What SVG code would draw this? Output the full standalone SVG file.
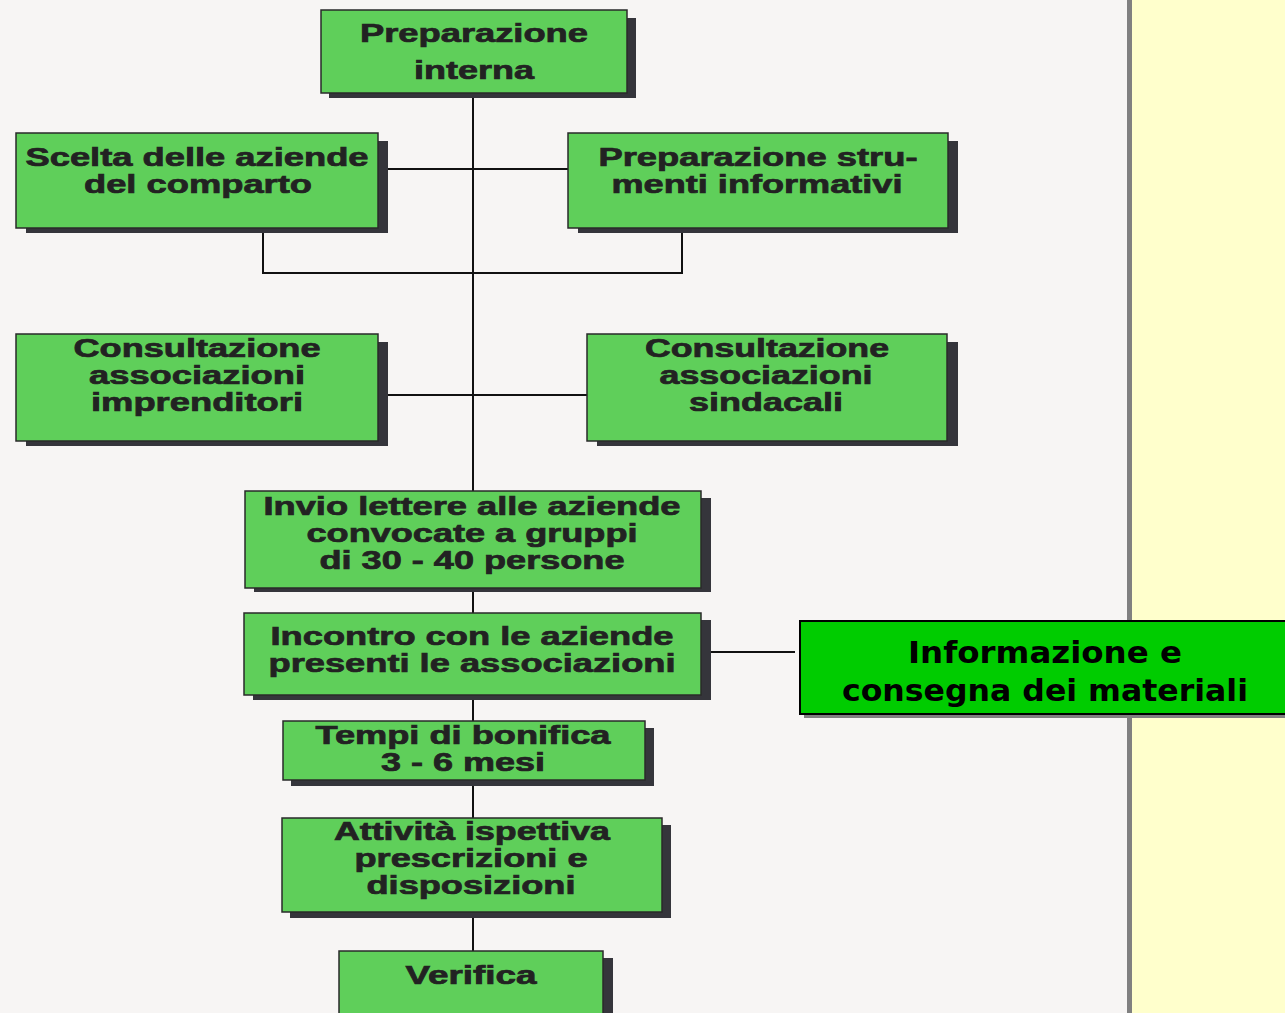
<svg xmlns="http://www.w3.org/2000/svg" width="1285" height="1013" viewBox="0 0 1285 1013">
<style>
.sh{fill:#35353b}
.bx{fill:#5fcf5a;stroke:#2a2a2a;stroke-width:1.5}
.t{font-family:"Liberation Sans",Arial,sans-serif;font-weight:bold;font-size:25px;fill:#222;stroke:#222;stroke-width:0.7;text-anchor:middle}
.ln{stroke:#111;stroke-width:2;fill:none}
.big{font-family:"DejaVu Sans",Verdana,sans-serif;font-weight:bold;font-size:30px;fill:#000;text-anchor:middle}
</style>
<rect x="0" y="0" width="1127" height="1013" fill="#f7f5f4"/>
<rect x="1127" y="0" width="5" height="1013" fill="#808080"/>
<rect x="1132" y="0" width="153" height="1013" fill="#ffffcc"/>
<g id="connectors">
<line class="ln" x1="473" y1="93" x2="473" y2="951"/>
<line class="ln" x1="378" y1="169" x2="568" y2="169"/>
<polyline class="ln" points="263,233 263,273 682,273 682,233"/>
<line class="ln" x1="378" y1="395" x2="587" y2="395"/>
<line class="ln" x1="711" y1="652" x2="795" y2="652"/>
</g>
<g id="n1"><rect class="sh" x="329" y="18" width="307" height="80"/><rect class="bx" x="321" y="10" width="306" height="83"/>
<text class="t" x="474" y="42" textLength="228" lengthAdjust="spacingAndGlyphs">Preparazione</text><text class="t" x="474" y="79" textLength="120" lengthAdjust="spacingAndGlyphs">interna</text></g>
<g id="n2"><rect class="sh" x="26" y="141" width="362" height="92"/><rect class="bx" x="16" y="133" width="362" height="95"/>
<text class="t" x="197" y="166" textLength="343" lengthAdjust="spacingAndGlyphs">Scelta delle aziende</text><text class="t" x="198" y="193" textLength="228" lengthAdjust="spacingAndGlyphs">del comparto</text></g>
<g id="n3"><rect class="sh" x="578" y="141" width="380" height="92"/><rect class="bx" x="568" y="133" width="380" height="95"/>
<text class="t" x="758" y="166" textLength="319" lengthAdjust="spacingAndGlyphs">Preparazione stru-</text><text class="t" x="757" y="193" textLength="291" lengthAdjust="spacingAndGlyphs">menti informativi</text></g>
<g id="n4"><rect class="sh" x="26" y="342" width="362" height="104"/><rect class="bx" x="16" y="334" width="362" height="107"/>
<text class="t" x="197" y="357" textLength="247" lengthAdjust="spacingAndGlyphs">Consultazione</text><text class="t" x="197" y="384" textLength="216" lengthAdjust="spacingAndGlyphs">associazioni</text><text class="t" x="197" y="411" textLength="212" lengthAdjust="spacingAndGlyphs">imprenditori</text></g>
<g id="n5"><rect class="sh" x="597" y="342" width="361" height="104"/><rect class="bx" x="587" y="334" width="360" height="107"/>
<text class="t" x="767" y="357" textLength="244" lengthAdjust="spacingAndGlyphs">Consultazione</text><text class="t" x="766" y="384" textLength="213" lengthAdjust="spacingAndGlyphs">associazioni</text><text class="t" x="766" y="411" textLength="154" lengthAdjust="spacingAndGlyphs">sindacali</text></g>
<g id="n6"><rect class="sh" x="254" y="498" width="457" height="94"/><rect class="bx" x="245" y="491" width="456" height="97"/>
<text class="t" x="472" y="515" textLength="417" lengthAdjust="spacingAndGlyphs">Invio lettere alle aziende</text><text class="t" x="472" y="542" textLength="331" lengthAdjust="spacingAndGlyphs">convocate a gruppi</text><text class="t" x="472" y="569" textLength="305" lengthAdjust="spacingAndGlyphs">di 30 - 40 persone</text></g>
<g id="n7"><rect class="sh" x="253" y="620" width="458" height="80"/><rect class="bx" x="244" y="613" width="457" height="82"/>
<text class="t" x="472" y="645" textLength="403" lengthAdjust="spacingAndGlyphs">Incontro con le aziende</text><text class="t" x="472" y="672" textLength="407" lengthAdjust="spacingAndGlyphs">presenti le associazioni</text></g>
<g id="n8"><rect class="sh" x="291" y="728" width="363" height="58"/><rect class="bx" x="283" y="721" width="362" height="59"/>
<text class="t" x="463" y="744" textLength="295" lengthAdjust="spacingAndGlyphs">Tempi di bonifica</text><text class="t" x="463" y="771" textLength="164" lengthAdjust="spacingAndGlyphs">3 - 6 mesi</text></g>
<g id="n9"><rect class="sh" x="290" y="825" width="381" height="93"/><rect class="bx" x="282" y="818" width="380" height="94"/>
<text class="t" x="472" y="840" textLength="276" lengthAdjust="spacingAndGlyphs">Attività ispettiva</text><text class="t" x="471" y="867" textLength="233" lengthAdjust="spacingAndGlyphs">prescrizioni e</text><text class="t" x="471" y="894" textLength="209" lengthAdjust="spacingAndGlyphs">disposizioni</text></g>
<g id="n10"><rect class="sh" x="348" y="958" width="265" height="60"/><rect class="bx" x="339" y="951" width="264" height="65"/>
<text class="t" x="471" y="984" textLength="131" lengthAdjust="spacingAndGlyphs">Verifica</text></g>
<g id="n11"><rect x="804" y="625" width="485" height="93" fill="#808080"/><rect x="800" y="621" width="490" height="93" fill="#00cc00" stroke="#000" stroke-width="2"/>
<text class="big" x="1045" y="663" textLength="274" lengthAdjust="spacingAndGlyphs">Informazione e</text><text class="big" x="1045" y="701" textLength="406" lengthAdjust="spacingAndGlyphs">consegna dei materiali</text></g>
</svg>
